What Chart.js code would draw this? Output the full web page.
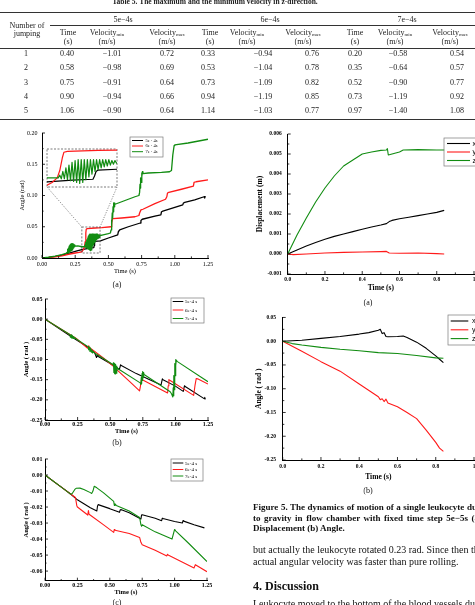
<!DOCTYPE html>
<html>
<head>
<meta charset="utf-8">
<script src="https://cdn.jsdelivr.net/npm/chart.js@4.4.1/dist/chart.umd.min.js"></script>
<style>
html, body { margin: 0; padding: 0; background: #fff; }
body { position: relative; width: 475px; height: 605px; overflow: hidden; font-family: "Liberation Serif", "Times New Roman", serif; color: #111; -webkit-font-smoothing: antialiased; }
.t { position: absolute; white-space: nowrap; line-height: 1; will-change: transform; }
.rule { position: absolute; height: 0; }
canvas { position: absolute; }
</style>
</head>
<body>
<script>
// ---- Table 5 values ----
const jumpNo = [1, 2, 3, 4, 5];
const time5 = [0.40, 0.58, 0.75, 0.90, 1.06];
const vmin5 = [-1.01, -0.98, -0.91, -0.94, -0.90];
const vmax5 = [0.72, 0.69, 0.64, 0.66, 0.64];
const time6 = [0.33, 0.53, 0.73, 0.94, 1.14];
const vmin6 = [-0.94, -1.04, -1.09, -1.19, -1.03];
const vmax6 = [0.76, 0.78, 0.82, 0.85, 0.77];
const time7 = [0.20, 0.35, 0.52, 0.73, 0.97];
const vmin7 = [-0.58, -0.64, -0.90, -1.19, -1.40];
const vmax7 = [0.54, 0.57, 0.77, 0.92, 1.08];
const stepNames = ['5e−4s', '6e−4s', '7e−4s'];

// ---- left (a): angle, z-direction ----
const labelsA = ['5e - 4s', '6e - 4s', '7e - 4s'];
const angA5 = [[0,0],[0.05,0.001],[0.10,0.0025],[0.15,0.0045],[0.20,0.0075],[0.25,0.0105],[0.30,0.0135],[0.35,0.0155],[0.39,0.0165],[0.393,0.020],[0.396,0.025],[0.40,0.0265],[0.44,0.0275],[0.50,0.032],[0.57,0.037],[0.575,0.042],[0.585,0.045],[0.65,0.050],[0.74,0.056],[0.745,0.060],[0.755,0.062],[0.85,0.067],[0.895,0.069],[0.90,0.074],[0.91,0.075],[1.00,0.081],[1.06,0.085],[1.065,0.088],[1.075,0.089],[1.15,0.093],[1.22,0.098],[1.225,0.096],[1.23,0.099]];
const angA6 = [[0,0],[0.05,0.0008],[0.10,0.002],[0.15,0.0035],[0.20,0.006],[0.25,0.008],[0.28,0.009],[0.30,0.010],[0.31,0.013],[0.32,0.018],[0.325,0.026],[0.33,0.040],[0.333,0.046],[0.34,0.047],[0.40,0.048],[0.45,0.0485],[0.52,0.050],[0.525,0.056],[0.53,0.062],[0.535,0.063],[0.60,0.064],[0.70,0.066],[0.73,0.068],[0.735,0.072],[0.745,0.077],[0.76,0.078],[0.85,0.087],[0.93,0.094],[0.94,0.098],[0.945,0.104],[0.955,0.105],[1.05,0.110],[1.14,0.115],[1.145,0.121],[1.16,0.122],[1.25,0.125]];
const angA7 = [[0,0],[0.05,0.0012],[0.10,0.003],[0.15,0.0055],[0.18,0.0075],
  [0.190,0.009],[0.193,0.014],[0.196,0.008],[0.199,0.016],[0.202,0.009],[0.205,0.019],[0.208,0.010],[0.211,0.021],[0.214,0.011],[0.217,0.022],[0.220,0.012],[0.223,0.023],[0.226,0.013],[0.229,0.023],[0.232,0.015],[0.235,0.022],[0.238,0.016],[0.241,0.021],[0.244,0.018],[0.247,0.021],[0.250,0.019],
  [0.27,0.0195],[0.30,0.018],[0.32,0.018],
  [0.322,0.018],[0.325,0.021],[0.328,0.017],[0.331,0.025],[0.334,0.017],[0.337,0.029],[0.340,0.016],[0.343,0.032],[0.346,0.015],[0.349,0.035],[0.352,0.014],[0.355,0.037],[0.358,0.013],[0.361,0.038],[0.364,0.012],[0.367,0.038],[0.370,0.013],[0.373,0.038],[0.376,0.016],[0.379,0.038],[0.382,0.019],[0.385,0.038],[0.388,0.022],[0.391,0.038],[0.394,0.025],[0.397,0.038],[0.400,0.027],[0.403,0.038],[0.406,0.029],[0.409,0.038],[0.412,0.030],[0.415,0.038],[0.418,0.031],[0.421,0.038],[0.424,0.032],[0.427,0.037],[0.430,0.033],[0.433,0.037],[0.436,0.034],[0.440,0.036],
  [0.46,0.037],[0.50,0.039],[0.515,0.040],
  [0.520,0.045],[0.523,0.060],[0.526,0.052],[0.529,0.072],[0.532,0.064],[0.535,0.082],[0.538,0.074],[0.541,0.088],[0.544,0.082],[0.547,0.088],[0.55,0.086],
  [0.60,0.090],[0.65,0.094],[0.70,0.098],[0.73,0.100],
  [0.735,0.105],[0.738,0.118],[0.741,0.112],[0.744,0.128],[0.747,0.121],[0.750,0.136],[0.753,0.130],[0.756,0.138],[0.76,0.135],
  [0.80,0.136],[0.90,0.137],[0.96,0.138],[0.975,0.140],[0.985,0.165],[0.995,0.180],[1.00,0.181],[1.10,0.184],[1.20,0.188],[1.25,0.190]];
const zoomT = [0.30, 0.437];
const zoomV = [0.008, 0.0496];

// ---- left (b) ----
const labelsBC = ['5e-4 s', '6e-4 s', '7e-4 s'];
const angB5 = [[0,0],[0.20,-0.043],[0.33,-0.070],[0.38,-0.083],[0.395,-0.095],[0.40,-0.090],[0.405,-0.092],[0.50,-0.110],[0.57,-0.125],[0.58,-0.113],[0.585,-0.115],[0.70,-0.135],[0.89,-0.163],[0.90,-0.148],[0.905,-0.150],[1.00,-0.166],[1.06,-0.179],[1.07,-0.165],[1.075,-0.167],[1.22,-0.197],[1.225,-0.194],[1.23,-0.199]];
const angB6 = [[0,0],[0.24,-0.048],[0.325,-0.072],[0.33,-0.068],[0.335,-0.066],[0.34,-0.070],[0.45,-0.097],[0.53,-0.118],[0.55,-0.125],[0.65,-0.155],[0.725,-0.178],[0.73,-0.170],[0.74,-0.150],[0.75,-0.151],[0.94,-0.183],[0.945,-0.165],[0.95,-0.150],[0.96,-0.152],[1.14,-0.189],[1.15,-0.165],[1.16,-0.147],[1.17,-0.148],[1.25,-0.161]];
const angB7 = [[0,0],[0.19,-0.038],[0.195,-0.045],[0.20,-0.039],[0.205,-0.047],[0.21,-0.041],[0.215,-0.048],[0.22,-0.043],[0.225,-0.048],[0.23,-0.046],[0.24,-0.049],
  [0.33,-0.068],[0.335,-0.076],[0.34,-0.070],[0.345,-0.080],[0.35,-0.073],[0.355,-0.082],[0.36,-0.076],[0.365,-0.084],[0.37,-0.080],[0.38,-0.084],
  [0.50,-0.108],[0.52,-0.113],[0.525,-0.108],[0.528,-0.132],[0.531,-0.110],[0.534,-0.135],[0.537,-0.112],[0.540,-0.136],[0.543,-0.114],[0.546,-0.134],[0.549,-0.116],[0.552,-0.130],[0.555,-0.120],[0.56,-0.123],
  [0.73,-0.158],[0.735,-0.162],[0.738,-0.145],[0.741,-0.160],[0.744,-0.135],[0.747,-0.152],[0.750,-0.130],[0.753,-0.145],[0.756,-0.132],[0.76,-0.137],
  [0.96,-0.180],[0.97,-0.185],[0.98,-0.193],[0.983,-0.170],[0.986,-0.190],[0.989,-0.140],[0.992,-0.175],[0.995,-0.110],[0.998,-0.140],[1.001,-0.100],[1.004,-0.115],[1.007,-0.102],[1.01,-0.104],[1.25,-0.155]];

// ---- left (c) ----
const angC5 = [[0,0],[0.05,-0.003],[0.10,-0.006],[0.15,-0.009],[0.20,-0.012],[0.25,-0.0155],[0.30,-0.018],[0.35,-0.0205],[0.40,-0.0225],[0.405,-0.0195],[0.41,-0.0185],[0.50,-0.021],[0.575,-0.0233],[0.58,-0.0218],[0.585,-0.0215],[0.65,-0.0235],[0.74,-0.0275],[0.745,-0.025],[0.75,-0.0248],[0.85,-0.027],[0.90,-0.0285],[0.905,-0.027],[0.91,-0.0272],[1.00,-0.029],[1.06,-0.030],[1.065,-0.0285],[1.07,-0.0288],[1.15,-0.031],[1.23,-0.033]];
const angC6 = [[0,0],[0.10,-0.006],[0.20,-0.012],[0.235,-0.014],[0.245,-0.019],[0.25,-0.020],[0.33,-0.025],[0.335,-0.0222],[0.34,-0.0245],[0.45,-0.031],[0.53,-0.0358],[0.535,-0.034],[0.54,-0.0345],[0.65,-0.0365],[0.73,-0.039],[0.74,-0.042],[0.75,-0.0435],[0.85,-0.047],[0.94,-0.0505],[0.945,-0.0495],[0.95,-0.050],[1.05,-0.054],[1.15,-0.058],[1.16,-0.056],[1.17,-0.0565],[1.25,-0.0604]];
const angC7 = [[0,0],[0.10,-0.006],[0.19,-0.0115],[0.20,-0.012],[0.21,-0.0115],[0.23,-0.009],[0.24,-0.0083],[0.27,-0.0082],[0.30,-0.009],[0.35,-0.011],[0.36,-0.0115],[0.37,-0.010],[0.38,-0.007],[0.40,-0.008],[0.45,-0.011],[0.53,-0.0165],[0.535,-0.019],[0.54,-0.018],[0.55,-0.019],[0.65,-0.0225],[0.73,-0.0265],[0.74,-0.031],[0.745,-0.032],[0.75,-0.031],[0.85,-0.0355],[0.98,-0.040],[0.99,-0.037],[1.00,-0.034],[1.01,-0.035],[1.10,-0.042],[1.25,-0.054]];

// ---- right (a): displacement ----
const labelsXYZ = ['x', 'y', 'z'];
const dispX = [[0,0],[0.05,0.0002],[0.10,0.0004],[0.15,0.00058],[0.20,0.00074],[0.25,0.00088],[0.30,0.0010],[0.35,0.00112],[0.40,0.00124],[0.45,0.00135],[0.50,0.00145],[0.53,0.00152],[0.545,0.00162],[0.56,0.00168],[0.60,0.00176],[0.65,0.00184],[0.70,0.00192],[0.75,0.0020],[0.80,0.00208],[0.84,0.00218]];
const dispY = [[0,0],[0.03,-0.00003],[0.10,0.0],[0.20,0.00005],[0.30,0.00008],[0.40,0.0001],[0.50,0.00012],[0.53,0.00013],[0.545,0.00005],[0.60,0.00004],[0.70,0.00005],[0.80,0.00002],[0.84,0.0]];
const dispZ = [[0,0],[0.05,0.00095],[0.10,0.0018],[0.15,0.0026],[0.20,0.0033],[0.25,0.0039],[0.30,0.0044],[0.35,0.0047],[0.40,0.0050],[0.45,0.0051],[0.50,0.00518],[0.53,0.0052],[0.535,0.00527],[0.54,0.00495],[0.56,0.0050],[0.60,0.0051],[0.62,0.0052],[0.70,0.00522],[0.80,0.0052],[0.84,0.0052]];

// ---- right (b): angle ----
const rotX = [[0,0],[0.10,0.002],[0.20,0.006],[0.30,0.010],[0.40,0.015],[0.45,0.018],[0.50,0.023],[0.51,0.025],[0.52,0.016],[0.53,0.018],[0.54,0.010],[0.55,0.0095],[0.60,0.010],[0.63,0.011],[0.65,0.008],[0.70,-0.002],[0.75,-0.015],[0.80,-0.031],[0.82,-0.038],[0.84,-0.045]];
const rotY = [[0,0],[0.10,-0.021],[0.20,-0.043],[0.30,-0.063],[0.40,-0.090],[0.50,-0.117],[0.51,-0.123],[0.52,-0.121],[0.53,-0.127],[0.54,-0.122],[0.55,-0.130],[0.60,-0.138],[0.65,-0.150],[0.70,-0.163],[0.75,-0.187],[0.80,-0.213],[0.82,-0.225],[0.84,-0.232]];
const rotZ = [[0,0],[0.05,-0.005],[0.10,-0.008],[0.20,-0.013],[0.30,-0.017],[0.40,-0.020],[0.50,-0.024],[0.60,-0.026],[0.70,-0.030],[0.80,-0.035],[0.84,-0.036]];

// ---- tick values ----
const ticksTime = [0, 0.25, 0.5, 0.75, 1.0, 1.25];
const ticksAngA = [0, 0.05, 0.10, 0.15, 0.20];
const ticksAngB = [-0.25, -0.20, -0.15, -0.10, -0.05, 0, 0.05];
const ticksAngC = [-0.06, -0.05, -0.04, -0.03, -0.02, -0.01, 0, 0.01];
const ticksTime2 = [0, 0.2, 0.4, 0.6, 0.8, 1];
const ticksDisp = [-0.001, 0, 0.001, 0.002, 0.003, 0.004, 0.005, 0.006];
const ticksRot = [-0.25, -0.20, -0.15, -0.10, -0.05, 0, 0.05];

const BLACK = '#000000', RED = '#ff1a1a', GREEN = '#118c11';

// ---------- text helpers ----------
function txt(x, y, html, css, anchor) {
  const d = document.createElement('div');
  d.className = 't';
  d.innerHTML = html;
  d.style.cssText += css;
  d.style.left = x + 'px';
  d.style.top = y + 'px';
  d.style.transform = anchor === 'l' ? 'translateY(-50%)' : 'translate(-50%,-50%)';
  document.body.appendChild(d);
  return d;
}
function rule(x, y, w, lw) {
  const d = document.createElement('div');
  d.className = 'rule';
  d.style.cssText += `left:${x}px;top:${y}px;width:${w}px;border-top:${lw}px solid #333;`;
  document.body.appendChild(d);
}

// ---------- table ----------
const tf = 'font-size:8px;color:#222;';
txt(215, 1.5, 'Table 5. The maximum and the minimum velocity in z-direction.', 'font-size:7.5px;font-weight:bold;color:#222;');
rule(0, 12, 475, 1);
txt(26.7, 25.7, 'Number of', tf);
txt(26.7, 34.3, 'jumping', tf);
[123, 270, 407].forEach((x, i) => txt(x, 20, stepNames[i], tf));
rule(50, 25, 425, 0.7);
const sub = s => `Velocity<span style="font-size:5px;vertical-align:-1px">${s}</span>`;
[[67.7, 106.7, 166.7], [210, 246.7, 303.3], [355, 395, 450]].forEach(g => {
  txt(g[0], 32.7, 'Time', tf); txt(g[0], 41.7, '(s)', tf);
  txt(g[1], 32.7, sub('min'), tf); txt(g[1], 41.7, '(m/s)', tf);
  txt(g[2], 32.7, sub('max'), tf); txt(g[2], 41.7, '(m/s)', tf);
});
rule(0, 47.5, 475, 0.7);
const fmt2 = v => v.toFixed(2).replace('-', '−');
const tableCols = [jumpNo, time5, vmin5, vmax5, time6, vmin6, vmax6, time7, vmin7, vmax7];
const colX = [26, 66.7, 112, 166.7, 207.7, 263, 311.7, 355, 398.3, 456.7];
const rowY = [54.3, 68.4, 82.5, 96.6, 110.7];
tableCols.forEach((col, c) => col.forEach((v, r) => {
  txt(colX[c], rowY[r], c === 0 ? String(v) : fmt2(v), tf);
}));
rule(0, 118.5, 475, 1);

// ---------- chart plugins ----------
const tickMarks = {
  id: 'tickMarks',
  afterDatasetsDraw(chart) {
    const { ctx, chartArea: a, scales } = chart;
    ctx.save();
    ctx.strokeStyle = '#000';
    ctx.lineWidth = 0.8;
    ctx.beginPath();
    ['x', 'y'].forEach(k => {
      const s = scales[k];
      const vals = s.ticks.map(t => t.value);
      vals.forEach((v, i) => {
        const marks = [[v, 3]];
        if (i < vals.length - 1) marks.push([(v + vals[i + 1]) / 2, 1.6]);
        marks.forEach(([val, len]) => {
          const p = s.getPixelForValue(val);
          if (k === 'x') { ctx.moveTo(p, a.bottom); ctx.lineTo(p, a.bottom - len); }
          else { ctx.moveTo(a.left, p); ctx.lineTo(a.left + len, p); }
        });
      });
    });
    ctx.stroke();
    ctx.restore();
  }
};

function makeChart(o) {
  const [cl, ct, cw, ch] = o.canvas;
  const [L, T, R, B] = o.area;
  const cv = document.createElement('canvas');
  cv.width = cw; cv.height = ch;
  cv.style.left = cl + 'px'; cv.style.top = ct + 'px';
  cv.style.width = cw + 'px'; cv.style.height = ch + 'px';
  document.body.appendChild(cv);
  const lg = o.legend;
  const legendBox = {
    id: 'legendBox',
    afterDraw(chart) {
      const ctx = chart.ctx;
      ctx.save();
      ctx.strokeStyle = '#7a7a7a';
      ctx.lineWidth = 0.7;
      ctx.strokeRect(lg.box[0] - cl, lg.box[1] - ct, lg.box[2] - lg.box[0], lg.box[3] - lg.box[1]);
      ctx.font = lg.font;
      ctx.textBaseline = 'middle';
      ctx.fillStyle = '#000';
      chart.data.datasets.forEach((ds, i) => {
        const y = lg.rows[i] - ct;
        ctx.strokeStyle = ds.borderColor;
        ctx.lineWidth = lg.lw;
        ctx.beginPath();
        ctx.moveTo(lg.lx[0] - cl, y);
        ctx.lineTo(lg.lx[1] - cl, y);
        ctx.stroke();
        ctx.fillText(ds.label, lg.tx - cl, y + 0.3);
      });
      ctx.restore();
    }
  };
  const tickFont = { family: 'Liberation Serif', size: o.tickSize, weight: o.bold ? 'bold' : 'normal', lineHeight: 1 };
  const titleFont = { family: 'Liberation Serif', size: o.titleSize, weight: o.bold ? 'bold' : 'normal', lineHeight: 1 };
  const axisBase = {
    type: 'linear', bounds: 'data',
    grid: { display: true, drawOnChartArea: false, drawTicks: false },
    border: { display: true, color: '#000', width: 1 }
  };
  return new Chart(cv, {
    type: 'line',
    data: {
      datasets: o.series.map(s => ({
        label: s.label,
        data: s.data.map(p => ({ x: p[0], y: p[1] })),
        borderColor: s.color,
        borderWidth: o.lw,
        borderJoinStyle: 'round',
        pointRadius: 0,
        fill: false,
        tension: 0,
        order: s.order
      }))
    },
    options: {
      responsive: false,
      animation: false,
      devicePixelRatio: 1,
      layout: { padding: { left: 0, top: T - ct, right: cl + cw - R, bottom: 0 } },
      plugins: { legend: { display: false }, tooltip: { enabled: false } },
      scales: {
        x: Object.assign({}, axisBase, {
          min: o.x.min, max: o.x.max,
          afterFit: s => { s.height = ct + ch - B; },
          afterBuildTicks: s => { s.ticks = o.x.ticks.map(v => ({ value: v })); },
          ticks: { font: tickFont, color: '#000', padding: o.x.pad, maxRotation: 0, autoSkip: false, callback: o.x.fmt },
          title: { display: true, text: o.x.title, font: titleFont, color: '#000', padding: { top: 0, bottom: o.x.tpad } }
        }),
        y: Object.assign({}, axisBase, {
          min: o.y.min, max: o.y.max,
          afterFit: s => { s.width = L - cl; },
          afterBuildTicks: s => { s.ticks = o.y.ticks.map(v => ({ value: v })); },
          ticks: { font: tickFont, color: '#000', padding: o.y.pad, autoSkip: false, callback: o.y.fmt },
          title: { display: true, text: o.y.title, font: titleFont, color: '#000', padding: { top: o.y.tpad, bottom: 0 } }
        })
      }
    },
    plugins: [tickMarks, legendBox].concat(o.extra || [])
  });
}

const f2 = v => v.toFixed(2);
const f1 = v => (v === 1 ? '1' : v.toFixed(1));
const f3 = v => v.toFixed(3);

// ---------- left (a) ----------
const insetBox = [47, 149, 70, 38];
const insetFrame = {
  id: 'insetFrame',
  afterDraw(chart) {
    const { ctx, scales: { x, y } } = chart;
    const ix = insetBox[0], iy = insetBox[1] - 124, iw = insetBox[2], ih = insetBox[3];
    const zx0 = x.getPixelForValue(zoomT[0]), zx1 = x.getPixelForValue(zoomT[1]);
    const zy0 = y.getPixelForValue(zoomV[1]), zy1 = y.getPixelForValue(zoomV[0]);
    ctx.save();
    ctx.strokeStyle = '#444';
    ctx.lineWidth = 0.7;
    ctx.setLineDash([2, 1.5]);
    ctx.strokeRect(zx0, zy0, zx1 - zx0, zy1 - zy0);
    ctx.strokeRect(ix, iy, iw, ih);
    ctx.setLineDash([1, 1.5]);
    ctx.beginPath();
    ctx.moveTo(ix, iy + ih); ctx.lineTo(zx0, zy0);
    ctx.moveTo(ix + iw, iy + ih); ctx.lineTo(zx1, zy0);
    ctx.stroke();
    ctx.restore();
  }
};
const seriesA = [
  { label: labelsA[0], data: angA5, color: BLACK, order: 2 },
  { label: labelsA[1], data: angA6, color: RED, order: 1 },
  { label: labelsA[2], data: angA7, color: GREEN, order: 0 }
];
makeChart({
  canvas: [0, 124, 240, 156], area: [42, 133, 208, 258],
  series: seriesA, lw: 1.3, bold: false, tickSize: 6, titleSize: 6.5,
  x: { min: 0, max: 1.25, ticks: ticksTime, fmt: f2, pad: 3, title: 'Time (s)', tpad: 5 },
  y: { min: 0, max: 0.20, ticks: ticksAngA, fmt: f2, pad: 4.5, title: 'Angle (rad)', tpad: 18.75 },
  legend: { box: [130, 137, 163, 157], rows: [140.5, 146, 151.7], lx: [132, 143], tx: 145.5, font: '4.5px "Liberation Serif"', lw: 1 },
  extra: [insetFrame]
});
// inset: zoomed view of the same three series
(() => {
  const cv = document.createElement('canvas');
  cv.width = insetBox[2]; cv.height = insetBox[3];
  cv.style.left = insetBox[0] + 'px'; cv.style.top = insetBox[1] + 'px';
  cv.style.width = insetBox[2] + 'px'; cv.style.height = insetBox[3] + 'px';
  document.body.appendChild(cv);
  new Chart(cv, {
    type: 'line',
    data: {
      datasets: seriesA.map(s => ({
        label: s.label, data: s.data.map(p => ({ x: p[0], y: p[1] })),
        borderColor: s.color, borderWidth: 1.2, borderJoinStyle: 'round', pointRadius: 0, tension: 0, order: s.order
      }))
    },
    options: {
      responsive: false, animation: false, devicePixelRatio: 1,
      layout: { padding: 0 },
      plugins: { legend: { display: false }, tooltip: { enabled: false } },
      scales: {
        x: { type: 'linear', display: false, bounds: 'data', min: zoomT[0], max: zoomT[1] },
        y: { type: 'linear', display: false, bounds: 'data', min: zoomV[0], max: zoomV[1] }
      }
    }
  });
})();
txt(117, 285, '(a)', 'font-size:8px;');

// ---------- left (b) ----------
makeChart({
  canvas: [0, 290, 240, 150], area: [45, 299, 208, 420],
  series: [
    { label: labelsBC[0], data: angB5, color: BLACK, order: 2 },
    { label: labelsBC[1], data: angB6, color: RED, order: 1 },
    { label: labelsBC[2], data: angB7, color: GREEN, order: 0 }
  ],
  lw: 1.1, bold: true, tickSize: 6, titleSize: 6.5,
  x: { min: 0, max: 1.25, ticks: ticksTime, fmt: f2, pad: 1.2, title: 'Time (s)', tpad: 5 },
  y: { min: -0.25, max: 0.05, ticks: ticksAngB, fmt: f2, pad: 2.5, title: 'Angle ( rad )', tpad: 22.75 },
  legend: { box: [171, 298, 204, 323], rows: [301.5, 310, 318.5], lx: [172.7, 183.3], tx: 185, font: '5px "Liberation Serif"', lw: 1 }
});
txt(117, 443, '(b)', 'font-size:8px;');

// ---------- left (c) ----------
makeChart({
  canvas: [0, 450, 240, 155], area: [45, 459, 207, 580.7],
  series: [
    { label: labelsBC[0], data: angC5, color: BLACK, order: 2 },
    { label: labelsBC[1], data: angC6, color: RED, order: 1 },
    { label: labelsBC[2], data: angC7, color: GREEN, order: 0 }
  ],
  lw: 1.1, bold: true, tickSize: 6, titleSize: 6.5,
  x: { min: 0, max: 1.25, ticks: ticksTime, fmt: f2, pad: 1.3, title: 'Time (s)', tpad: 9.75 },
  y: { min: -0.066, max: 0.01, ticks: ticksAngC, fmt: f2, pad: 2.5, title: 'Angle ( rad )', tpad: 22.75 },
  legend: { box: [171, 459, 203, 481], rows: [463, 469.5, 476], lx: [172.7, 183.3], tx: 185, font: '5px "Liberation Serif"', lw: 1 }
});
txt(117, 603, '(c)', 'font-size:8px;');

// ---------- right (a) ----------
makeChart({
  canvas: [240, 124, 240, 176], area: [287.7, 134, 474, 274],
  series: [
    { label: labelsXYZ[0], data: dispX, color: BLACK, order: 2 },
    { label: labelsXYZ[1], data: dispY, color: RED, order: 1 },
    { label: labelsXYZ[2], data: dispZ, color: GREEN, order: 0 }
  ],
  lw: 1.1, bold: true, tickSize: 5.5, titleSize: 7.5,
  x: { min: 0, max: 1, ticks: ticksTime2, fmt: f1, pad: 3.25, title: 'Time (s)', tpad: 8.25 },
  y: { min: -0.001, max: 0.006, ticks: ticksDisp, fmt: f3, pad: 6, title: 'Displacement (m)', tpad: 16.25 },
  legend: { box: [444, 138, 490, 166], rows: [143.5, 152, 160.5], lx: [447, 470], tx: 472.5, font: '7px "Liberation Sans"', lw: 1.1 }
});
txt(368, 303, '(a)', 'font-size:8px;');

// ---------- right (b) ----------
makeChart({
  canvas: [240, 308, 240, 178], area: [282.7, 316, 474, 460],
  series: [
    { label: labelsXYZ[0], data: rotX, color: BLACK, order: 2 },
    { label: labelsXYZ[1], data: rotY, color: RED, order: 1 },
    { label: labelsXYZ[2], data: rotZ, color: GREEN, order: 0 }
  ],
  lw: 1.1, bold: true, tickSize: 5.5, titleSize: 7.5,
  x: { min: 0, max: 1, ticks: ticksTime2, fmt: f1, pad: 4, title: 'Time (s)', tpad: 5.5 },
  y: { min: -0.25, max: 0.05, ticks: ticksRot, fmt: f2, pad: 6.7, title: 'Angle ( rad )', tpad: 15.25 },
  legend: { box: [448, 315, 490, 345], rows: [321, 329.8, 338.6], lx: [450.7, 468.3], tx: 472, font: '7px "Liberation Sans"', lw: 1.1 }
});
txt(368, 491, '(b)', 'font-size:8px;');

// ---------- caption and body text ----------
const cap = 'font-size:9px;font-weight:bold;';
txt(253.3, 506.7, 'Figure 5. The dynamics of motion of a single leukocyte due', cap + 'word-spacing:0.3px;', 'l');
txt(253.3, 517.7, 'to gravity in flow chamber with fixed time step 5e−5s (a)', cap + 'word-spacing:1.3px;', 'l');
txt(253.3, 527.7, 'Displacement (b) Angle.', cap, 'l');
txt(253.3, 550, 'but actually the leukocyte rotated 0.23 rad. Since then the', 'font-size:10px;', 'l');
txt(253.3, 562.3, 'actual angular velocity was faster than pure rolling.', 'font-size:10px;', 'l');
txt(253.3, 585.7, '4. Discussion', 'font-size:12px;font-weight:bold;', 'l');
txt(253.3, 603.5, 'Leukocyte moved to the bottom of the blood vessels due', 'font-size:10px;', 'l');
</script>
</body>
</html>
